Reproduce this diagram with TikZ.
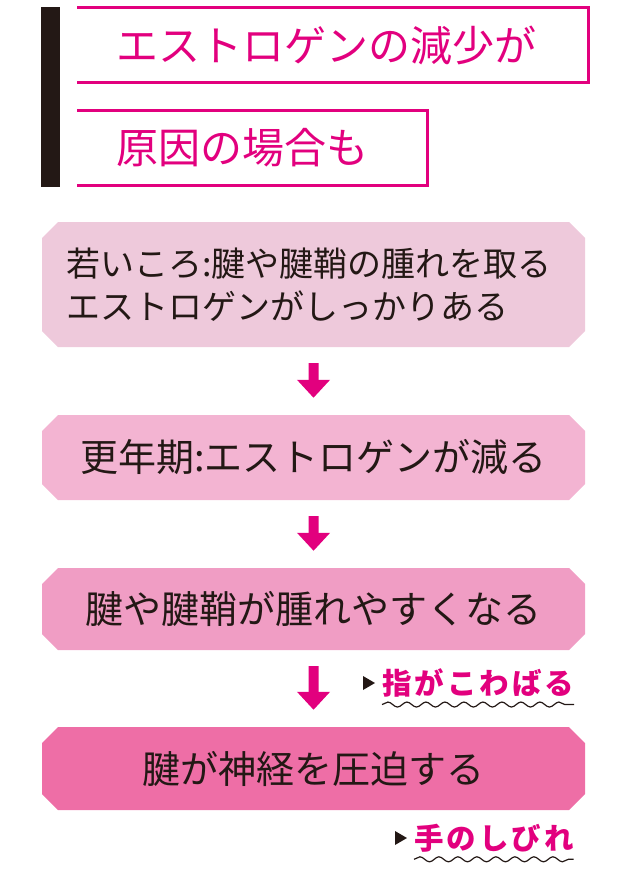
\documentclass[tikz,border=0pt]{standalone}
\usepackage{fontspec}
\setmainfont{Noto Sans CJK JP}
\newfontfamily\sidefont[LetterSpace=10]{Noto Sans CJK JP}
\usetikzlibrary{shapes.misc,arrows.meta,decorations.pathmorphing,positioning}
\definecolor{titlepink}{HTML}{E2007E}
\definecolor{inkgray}{HTML}{231815}
\definecolor{fillyoung}{HTML}{EEC9DB}
\definecolor{fillmeno}{HTML}{F3B4D2}
\definecolor{fillswell}{HTML}{F09DC4}
\definecolor{fillpress}{HTML}{EE6EA6}
\tikzset{
	stepbox/.style={chamfered rectangle, chamfered rectangle xsep=8pt, chamfered rectangle ysep=8pt,
		minimum width=543pt, inner sep=0pt, text=inkgray, font=\fontsize{38}{44}\selectfont},
	titletext/.style={anchor=west, text=titlepink, inner sep=0pt, font=\fontsize{42}{46}\selectfont},
	titleframe/.style={draw=titlepink, line width=3pt},
	flowarrow/.style={draw=titlepink, line width=10pt, -{Triangle[width=32pt,length=18pt]},
		shorten <=16pt, shorten >=17pt},
	sidelabel/.style={anchor=west, text=titlepink, inner sep=0pt, font=\sidefont\bfseries\fontsize{29.5}{32}\selectfont},
	pointer/.style={fill=inkgray},
	wavy/.style={draw=inkgray, line width=1.2pt, decorate, decoration={snake, segment length=19pt, amplitude=2.5pt}}
}

\begin{document}
\begin{tikzpicture}[x=1pt, y=-1pt]
	\useasboundingbox (0,0) rectangle (630,875);
	% heading
	\fill[inkgray] (41,7) rectangle (60,187);
	\node[titletext] (head1) at (116,45) {エストロゲンの減少が};
	\node[titletext] (head2) at (116,148) {原因の場合も};
	\draw[titleframe] (77,8) -| (588,82) -- (77,82);
	\draw[titleframe] (77,110) -| (427,185) -- (77,185);
	% flow
	\node[stepbox, fill=fillyoung, minimum height=125pt, align=left, text width=495pt,
		font=\fontsize{34}{43}\selectfont] (young) at (313.5,284.5)
		{若いころ:腱や腱鞘の腫れを取る\\エストロゲンがしっかりある};
	\node[stepbox, fill=fillmeno, minimum height=85pt] (meno) at (313.5,457.5) {更年期:エストロゲンが減る};
	\node[stepbox, fill=fillswell, minimum height=82pt] (swell) at (313.5,609) {腱や腱鞘が腫れやすくなる};
	\node[stepbox, fill=fillpress, minimum height=83pt] (press) at (313.5,768.5) {腱が神経を圧迫する};
	\path[flowarrow] (young) -- (meno);
	\path[flowarrow] (meno) -- (swell);
	\path[flowarrow] (swell) -- (press);
	% symptoms
	\node[sidelabel] (stiff) at (382,683) {指がこわばる};
	\fill[pointer] ([shift={(-19,-7)}]stiff.west) -- ([shift={(-7,0)}]stiff.west) -- ([shift={(-19,7)}]stiff.west) -- cycle;
	\draw[wavy] ([yshift=-7pt]stiff.south west) -- ([yshift=-7pt]stiff.south east);
	\node[sidelabel] (numb) at (414,838) {手のしびれ};
	\fill[pointer] ([shift={(-19,-7)}]numb.west) -- ([shift={(-7,0)}]numb.west) -- ([shift={(-19,7)}]numb.west) -- cycle;
	\draw[wavy] ([yshift=-7pt]numb.south west) -- ([yshift=-7pt]numb.south east);
\end{tikzpicture}
\end{document}
